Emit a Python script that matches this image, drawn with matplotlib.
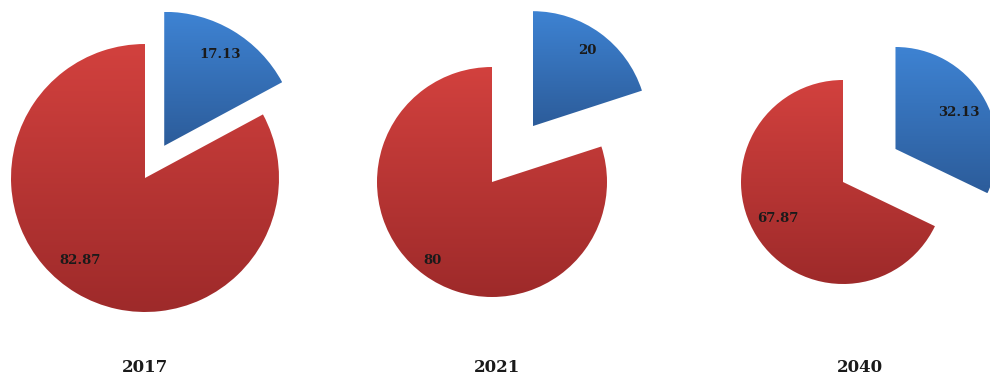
import numpy as np
import matplotlib.pyplot as plt
from matplotlib.colors import LinearSegmentedColormap

# share of each year: blue part first, red part second
years = ['2017', '2021', '2040']
blue_share = [17.13, 20, 32.13]
red_share = [82.87, 80, 67.87]

# pixel-scale layout of the three pies
centers = [(145, 199), (492, 195), (843, 195)]
radii = [134, 115, 102]
explodes = [37.5, 69, 62]   # offset of the blue slice, in pixels
blue_label_xy = [(220, 322), (587, 327), (959, 264)]
red_label_xy = [(80, 117), (432, 117), (778, 159)]
year_x = [145, 497, 860]

red_cmap = LinearSegmentedColormap.from_list('red_grad', ['#9e2a2a', '#d2413e'])
blue_cmap = LinearSegmentedColormap.from_list('blue_grad', ['#2c5c9a', '#3e83d3'])


def fmt_value(v):
    s = f'{v:.2f}'
    return s.rstrip('0').rstrip('.')


fig = plt.figure(figsize=(9.9, 3.77), dpi=100)
ax = fig.add_axes([0, 0, 1, 1])

label_style = dict(fontsize=9.5, fontweight='bold', family='DejaVu Serif',
                   color='#1a1a1a', ha='center', va='center', zorder=3)

for i in range(len(years)):
    wedges, _ = ax.pie(
        [blue_share[i], red_share[i]],
        explode=[explodes[i], 0],
        startangle=90, counterclock=False,
        center=centers[i], radius=radii[i],
        frame=True,
        wedgeprops=dict(linewidth=0))
    # vertical gradient inside every slice
    for w, cmap in zip(wedges, [blue_cmap, red_cmap]):
        ext = w.get_path().get_extents()
        w.set_facecolor('none')
        grad = np.linspace(0, 1, 256).reshape(-1, 1)
        im = ax.imshow(grad, cmap=cmap, origin='lower', aspect='auto',
                       extent=[ext.x0, ext.x1, ext.y0, ext.y1],
                       interpolation='bilinear', zorder=1)
        im.set_clip_path(w)
    ax.text(*blue_label_xy[i], fmt_value(blue_share[i]), **label_style)
    ax.text(*red_label_xy[i], fmt_value(red_share[i]), **label_style)
    ax.text(year_x[i], 10, years[i], ha='center', va='center',
            fontsize=12, fontweight='bold', family='DejaVu Serif',
            color='#1a1a1a')

ax.set_xlim(0, 990)
ax.set_ylim(0, 377)
ax.set_aspect('equal')
ax.axis('off')

fig.savefig('out.png', dpi=100)
